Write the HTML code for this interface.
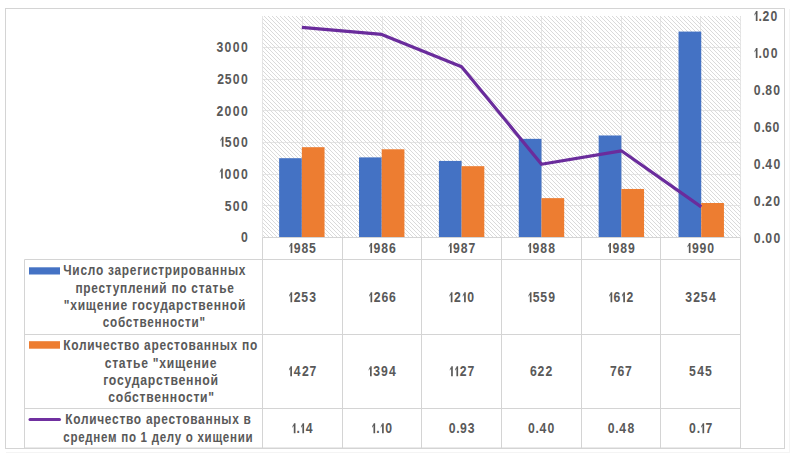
<!DOCTYPE html><html><head><meta charset="utf-8"><style>html,body{margin:0;padding:0;background:#fff;width:792px;height:458px;overflow:hidden}svg{display:block}text{font-family:"Liberation Sans",sans-serif;font-size:14.5px;font-weight:700;fill:#595959;stroke:#595959;stroke-width:0.0px;letter-spacing:0.9px;white-space:pre} .one{fill:#595959} text.n{stroke-width:0.0px;font-weight:700}</style></head><body>
<svg width="792" height="458" viewBox="0 0 792 458">
<defs><pattern id="hatch" patternUnits="userSpaceOnUse" width="4" height="4" x="0" y="0"><rect x="0" y="0" width="1" height="1" fill="#dadada"/><rect x="1" y="1" width="1" height="1" fill="#dadada"/><rect x="2" y="2" width="1" height="1" fill="#dadada"/><rect x="3" y="3" width="1" height="1" fill="#dadada"/></pattern></defs>
<line x1="789.5" y1="9" x2="789.5" y2="453" stroke="#f4f4f4"/><line x1="6" y1="452.5" x2="789" y2="452.5" stroke="#f4f4f4"/>
<rect x="5.5" y="8.5" width="779" height="440" fill="#fff" stroke="#d4d4d4" stroke-width="1"/>
<line x1="262.5" y1="237.50" x2="740.5" y2="237.50" stroke="#e6e6e6" stroke-width="1"/>
<line x1="262.5" y1="205.50" x2="740.5" y2="205.50" stroke="#e6e6e6" stroke-width="1"/>
<line x1="262.5" y1="174.50" x2="740.5" y2="174.50" stroke="#e6e6e6" stroke-width="1"/>
<line x1="262.5" y1="142.50" x2="740.5" y2="142.50" stroke="#e6e6e6" stroke-width="1"/>
<line x1="262.5" y1="110.50" x2="740.5" y2="110.50" stroke="#e6e6e6" stroke-width="1"/>
<line x1="262.5" y1="79.50" x2="740.5" y2="79.50" stroke="#e6e6e6" stroke-width="1"/>
<line x1="262.5" y1="47.50" x2="740.5" y2="47.50" stroke="#e6e6e6" stroke-width="1"/>
<line x1="262.50" y1="16.0" x2="262.50" y2="237.5" stroke="#e6e6e6" stroke-width="1"/>
<line x1="302.50" y1="16.0" x2="302.50" y2="237.5" stroke="#e6e6e6" stroke-width="1"/>
<line x1="342.50" y1="16.0" x2="342.50" y2="237.5" stroke="#e6e6e6" stroke-width="1"/>
<line x1="382.50" y1="16.0" x2="382.50" y2="237.5" stroke="#e6e6e6" stroke-width="1"/>
<line x1="421.50" y1="16.0" x2="421.50" y2="237.5" stroke="#e6e6e6" stroke-width="1"/>
<line x1="461.50" y1="16.0" x2="461.50" y2="237.5" stroke="#e6e6e6" stroke-width="1"/>
<line x1="501.50" y1="16.0" x2="501.50" y2="237.5" stroke="#e6e6e6" stroke-width="1"/>
<line x1="541.50" y1="16.0" x2="541.50" y2="237.5" stroke="#e6e6e6" stroke-width="1"/>
<line x1="581.50" y1="16.0" x2="581.50" y2="237.5" stroke="#e6e6e6" stroke-width="1"/>
<line x1="621.50" y1="16.0" x2="621.50" y2="237.5" stroke="#e6e6e6" stroke-width="1"/>
<line x1="660.50" y1="16.0" x2="660.50" y2="237.5" stroke="#e6e6e6" stroke-width="1"/>
<line x1="700.50" y1="16.0" x2="700.50" y2="237.5" stroke="#e6e6e6" stroke-width="1"/>
<line x1="740.50" y1="16.0" x2="740.50" y2="237.5" stroke="#e6e6e6" stroke-width="1"/>
<rect x="262.5" y="16.0" width="478.0" height="221.5" fill="url(#hatch)"/>
<rect x="279.14" y="158.20" width="22.7" height="79.30" fill="#4472c4"/>
<rect x="301.84" y="147.19" width="22.7" height="90.31" fill="#ed7d31"/>
<rect x="359.02" y="157.38" width="22.7" height="80.12" fill="#4472c4"/>
<rect x="381.72" y="149.28" width="22.7" height="88.22" fill="#ed7d31"/>
<rect x="438.90" y="160.92" width="22.7" height="76.58" fill="#4472c4"/>
<rect x="461.60" y="166.18" width="22.7" height="71.32" fill="#ed7d31"/>
<rect x="518.78" y="138.84" width="22.7" height="98.66" fill="#4472c4"/>
<rect x="541.48" y="198.14" width="22.7" height="39.36" fill="#ed7d31"/>
<rect x="598.66" y="135.48" width="22.7" height="102.02" fill="#4472c4"/>
<rect x="621.36" y="188.96" width="22.7" height="48.54" fill="#ed7d31"/>
<rect x="678.54" y="31.57" width="22.7" height="205.93" fill="#4472c4"/>
<rect x="701.24" y="203.01" width="22.7" height="34.49" fill="#ed7d31"/>
<polyline points="301.84,27.38 381.72,34.46 461.60,66.74 541.48,164.27 621.36,150.80 701.24,206.82" fill="none" stroke="#6a2c9c" stroke-width="3.2" stroke-linejoin="round" stroke-linecap="butt"/>
<line x1="262.5" y1="237.5" x2="740.5" y2="237.5" stroke="#d4d4d4"/>
<line x1="24.5" y1="259.5" x2="740.5" y2="259.5" stroke="#d4d4d4"/>
<line x1="24.5" y1="334.5" x2="740.5" y2="334.5" stroke="#d4d4d4"/>
<line x1="24.5" y1="408.5" x2="740.5" y2="408.5" stroke="#d4d4d4"/>
<line x1="24.5" y1="448" x2="740.5" y2="448" stroke="#d4d4d4"/>
<line x1="24.5" y1="259.5" x2="24.5" y2="448" stroke="#d4d4d4"/>
<line x1="262.5" y1="237.5" x2="262.5" y2="448" stroke="#d4d4d4"/>
<line x1="342.5" y1="237.5" x2="342.5" y2="448" stroke="#d4d4d4"/>
<line x1="421.5" y1="237.5" x2="421.5" y2="448" stroke="#d4d4d4"/>
<line x1="501.5" y1="237.5" x2="501.5" y2="448" stroke="#d4d4d4"/>
<line x1="581.5" y1="237.5" x2="581.5" y2="448" stroke="#d4d4d4"/>
<line x1="660.5" y1="237.5" x2="660.5" y2="448" stroke="#d4d4d4"/>
<line x1="740.5" y1="237.5" x2="740.5" y2="448" stroke="#d4d4d4"/>
<rect x="29" y="267.3" width="31" height="7.2" fill="#4472c4"/>
<rect x="29" y="341.2" width="31" height="7.5" fill="#ed7d31"/>
<line x1="30" y1="419.5" x2="59.5" y2="419.5" stroke="#7030a0" stroke-width="3" stroke-linecap="round"/>
<text transform="translate(63.25,275.30) scale(0.8213,1)">Число зарегистрированных</text>
<text transform="translate(75.46,292.60) scale(0.8187,1)">преступлений по статье</text>
<text transform="translate(63.77,309.90) scale(0.8325,1)">"хищение государственной</text>
<text transform="translate(102.79,327.30) scale(0.8082,1)">собственности"</text>
<text transform="translate(63.18,349.80) scale(0.8226,1)">Количество арестованных по</text>
<text transform="translate(104.66,367.60) scale(0.8357,1)">статье "хищение</text>
<text transform="translate(103.13,385.10) scale(0.8451,1)">государственной</text>
<text transform="translate(108.26,402.40) scale(0.8371,1)">собственности"</text>
<text transform="translate(65.18,423.80) scale(0.8211,1)">Количество арестованных в</text>
<text transform="translate(63.30,441.80) scale(0.7966,1)">среднем по 1 делу о хищении</text>
<text class="n" transform="translate(241.00,241.80) scale(0.8428,1)">0</text>
<text class="n" transform="translate(224.67,211.06) scale(0.8428,1)">5</text>
<text class="n" transform="translate(232.70,211.06) scale(0.8428,1)">0</text>
<text class="n" transform="translate(241.00,211.06) scale(0.8428,1)">0</text>
<path class="one" d="M221.10,178.51V168.51H222.80V178.51Z M221.40,168.51L219.80,171.51L219.80,173.11L221.10,170.71Z"/>
<text class="n" transform="translate(224.40,178.51) scale(0.8428,1)">0</text>
<text class="n" transform="translate(232.70,178.51) scale(0.8428,1)">0</text>
<text class="n" transform="translate(241.00,178.51) scale(0.8428,1)">0</text>
<path class="one" d="M221.80,146.87V136.87H223.50V146.87Z M222.10,136.87L220.50,139.87L220.50,141.47L221.80,139.07Z"/>
<text class="n" transform="translate(224.67,146.87) scale(0.8428,1)">5</text>
<text class="n" transform="translate(232.70,146.87) scale(0.8428,1)">0</text>
<text class="n" transform="translate(241.00,146.87) scale(0.8428,1)">0</text>
<text class="n" transform="translate(216.43,116.03) scale(0.8428,1)">2</text>
<text class="n" transform="translate(224.40,116.03) scale(0.8428,1)">0</text>
<text class="n" transform="translate(232.70,116.03) scale(0.8428,1)">0</text>
<text class="n" transform="translate(241.00,116.03) scale(0.8428,1)">0</text>
<text class="n" transform="translate(217.13,83.89) scale(0.8428,1)">2</text>
<text class="n" transform="translate(224.67,83.89) scale(0.8428,1)">5</text>
<text class="n" transform="translate(232.70,83.89) scale(0.8428,1)">0</text>
<text class="n" transform="translate(241.00,83.89) scale(0.8428,1)">0</text>
<text class="n" transform="translate(216.46,51.94) scale(0.8428,1)">3</text>
<text class="n" transform="translate(224.40,51.94) scale(0.8428,1)">0</text>
<text class="n" transform="translate(232.70,51.94) scale(0.8428,1)">0</text>
<text class="n" transform="translate(241.00,51.94) scale(0.8428,1)">0</text>
<text class="n" transform="translate(753.80,242.60) scale(0.8428,1)">0</text>
<text class="n" transform="translate(761.39,242.60) scale(0.8428,1)">.</text>
<text class="n" transform="translate(765.20,242.60) scale(0.8428,1)">0</text>
<text class="n" transform="translate(773.50,242.60) scale(0.8428,1)">0</text>
<text class="n" transform="translate(753.80,205.68) scale(0.8428,1)">0</text>
<text class="n" transform="translate(761.39,205.68) scale(0.8428,1)">.</text>
<text class="n" transform="translate(765.23,205.68) scale(0.8428,1)">2</text>
<text class="n" transform="translate(773.20,205.68) scale(0.8428,1)">0</text>
<text class="n" transform="translate(753.80,168.77) scale(0.8428,1)">0</text>
<text class="n" transform="translate(761.39,168.77) scale(0.8428,1)">.</text>
<text class="n" transform="translate(765.35,168.77) scale(0.8428,1)">4</text>
<text class="n" transform="translate(773.50,168.77) scale(0.8428,1)">0</text>
<text class="n" transform="translate(753.80,131.85) scale(0.8428,1)">0</text>
<text class="n" transform="translate(761.39,131.85) scale(0.8428,1)">.</text>
<text class="n" transform="translate(764.91,131.85) scale(0.8428,1)">6</text>
<text class="n" transform="translate(772.60,131.85) scale(0.8428,1)">0</text>
<text class="n" transform="translate(753.80,94.93) scale(0.8428,1)">0</text>
<text class="n" transform="translate(761.39,94.93) scale(0.8428,1)">.</text>
<text class="n" transform="translate(765.21,94.93) scale(0.8428,1)">8</text>
<text class="n" transform="translate(773.20,94.93) scale(0.8428,1)">0</text>
<path class="one" d="M755.80,58.02V48.02H757.50V58.02Z M756.10,48.02L754.50,51.02L754.50,52.62L755.80,50.22Z"/>
<text class="n" transform="translate(758.59,58.02) scale(0.8428,1)">.</text>
<text class="n" transform="translate(762.40,58.02) scale(0.8428,1)">0</text>
<text class="n" transform="translate(770.70,58.02) scale(0.8428,1)">0</text>
<path class="one" d="M755.80,21.10V11.10H757.50V21.10Z M756.10,11.10L754.50,14.10L754.50,15.70L755.80,13.30Z"/>
<text class="n" transform="translate(758.59,21.10) scale(0.8428,1)">.</text>
<text class="n" transform="translate(762.43,21.10) scale(0.8428,1)">2</text>
<text class="n" transform="translate(770.40,21.10) scale(0.8428,1)">0</text>
<path class="one" d="M290.63,253.00V243.00H292.33V253.00Z M290.93,243.00L289.33,246.00L289.33,247.60L290.63,245.20Z"/>
<text class="n" transform="translate(293.74,253.00) scale(0.8428,1)">9</text>
<text class="n" transform="translate(301.54,253.00) scale(0.8428,1)">8</text>
<text class="n" transform="translate(309.10,253.00) scale(0.8428,1)">5</text>
<path class="one" d="M290.48,302.30V292.30H292.18V302.30Z M290.78,292.30L289.18,295.30L289.18,296.90L290.48,294.50Z"/>
<text class="n" transform="translate(293.82,302.30) scale(0.8428,1)">2</text>
<text class="n" transform="translate(301.35,302.30) scale(0.8428,1)">5</text>
<text class="n" transform="translate(309.35,302.30) scale(0.8428,1)">3</text>
<path class="one" d="M290.28,376.20V366.20H291.98V376.20Z M290.58,366.20L288.98,369.20L288.98,370.80L290.28,368.40Z"/>
<text class="n" transform="translate(293.73,376.20) scale(0.8428,1)">4</text>
<text class="n" transform="translate(301.92,376.20) scale(0.8428,1)">2</text>
<text class="n" transform="translate(309.54,376.20) scale(0.8428,1)">7</text>
<path class="one" d="M293.78,433.30V423.30H295.48V433.30Z M294.08,423.30L292.48,426.30L292.48,427.90L293.78,425.50Z"/>
<text class="n" transform="translate(296.58,433.30) scale(0.8428,1)">.</text>
<path class="one" d="M302.38,433.30V423.30H304.08V433.30Z M302.68,423.30L301.08,426.30L301.08,427.90L302.38,425.50Z"/>
<text class="n" transform="translate(305.83,433.30) scale(0.8428,1)">4</text>
<path class="one" d="M370.40,253.00V243.00H372.10V253.00Z M370.70,243.00L369.10,246.00L369.10,247.60L370.40,245.20Z"/>
<text class="n" transform="translate(373.51,253.00) scale(0.8428,1)">9</text>
<text class="n" transform="translate(381.31,253.00) scale(0.8428,1)">8</text>
<text class="n" transform="translate(389.01,253.00) scale(0.8428,1)">6</text>
<path class="one" d="M370.50,302.30V292.30H372.20V302.30Z M370.80,292.30L369.20,295.30L369.20,296.90L370.50,294.50Z"/>
<text class="n" transform="translate(373.83,302.30) scale(0.8428,1)">2</text>
<text class="n" transform="translate(381.51,302.30) scale(0.8428,1)">6</text>
<text class="n" transform="translate(388.91,302.30) scale(0.8428,1)">6</text>
<path class="one" d="M370.00,376.20V366.20H371.70V376.20Z M370.30,366.20L368.70,369.20L368.70,370.80L370.00,368.40Z"/>
<text class="n" transform="translate(373.26,376.20) scale(0.8428,1)">3</text>
<text class="n" transform="translate(381.01,376.20) scale(0.8428,1)">9</text>
<text class="n" transform="translate(388.95,376.20) scale(0.8428,1)">4</text>
<path class="one" d="M373.45,433.30V423.30H375.15V433.30Z M373.75,423.30L372.15,426.30L372.15,427.90L373.45,425.50Z"/>
<text class="n" transform="translate(376.24,433.30) scale(0.8428,1)">.</text>
<path class="one" d="M382.05,433.30V423.30H383.75V433.30Z M382.35,423.30L380.75,426.30L380.75,427.90L382.05,425.50Z"/>
<text class="n" transform="translate(385.35,433.30) scale(0.8428,1)">0</text>
<path class="one" d="M449.97,253.00V243.00H451.67V253.00Z M450.27,243.00L448.67,246.00L448.67,247.60L449.97,245.20Z"/>
<text class="n" transform="translate(453.07,253.00) scale(0.8428,1)">9</text>
<text class="n" transform="translate(460.87,253.00) scale(0.8428,1)">8</text>
<text class="n" transform="translate(468.53,253.00) scale(0.8428,1)">7</text>
<path class="one" d="M450.77,302.30V292.30H452.47V302.30Z M451.07,292.30L449.47,295.30L449.47,296.90L450.77,294.50Z"/>
<text class="n" transform="translate(454.10,302.30) scale(0.8428,1)">2</text>
<path class="one" d="M464.07,302.30V292.30H465.77V302.30Z M464.37,292.30L462.77,295.30L462.77,296.90L464.07,294.50Z"/>
<text class="n" transform="translate(467.37,302.30) scale(0.8428,1)">0</text>
<path class="one" d="M451.12,376.20V366.20H452.82V376.20Z M451.42,366.20L449.82,369.20L449.82,370.80L451.12,368.40Z"/>
<path class="one" d="M456.42,376.20V366.20H458.12V376.20Z M456.72,366.20L455.12,369.20L455.12,370.80L456.42,368.40Z"/>
<text class="n" transform="translate(459.75,376.20) scale(0.8428,1)">2</text>
<text class="n" transform="translate(467.38,376.20) scale(0.8428,1)">7</text>
<text class="n" transform="translate(448.77,433.30) scale(0.8428,1)">0</text>
<text class="n" transform="translate(456.36,433.30) scale(0.8428,1)">.</text>
<text class="n" transform="translate(459.97,433.30) scale(0.8428,1)">9</text>
<text class="n" transform="translate(467.73,433.30) scale(0.8428,1)">3</text>
<path class="one" d="M529.43,253.00V243.00H531.13V253.00Z M529.73,243.00L528.13,246.00L528.13,247.60L529.43,245.20Z"/>
<text class="n" transform="translate(532.54,253.00) scale(0.8428,1)">9</text>
<text class="n" transform="translate(540.34,253.00) scale(0.8428,1)">8</text>
<text class="n" transform="translate(548.34,253.00) scale(0.8428,1)">8</text>
<path class="one" d="M529.83,302.30V292.30H531.53V302.30Z M530.13,292.30L528.53,295.30L528.53,296.90L529.83,294.50Z"/>
<text class="n" transform="translate(532.70,302.30) scale(0.8428,1)">5</text>
<text class="n" transform="translate(540.30,302.30) scale(0.8428,1)">5</text>
<text class="n" transform="translate(548.14,302.30) scale(0.8428,1)">9</text>
<text class="n" transform="translate(529.90,376.20) scale(0.8428,1)">6</text>
<text class="n" transform="translate(537.62,376.20) scale(0.8428,1)">2</text>
<text class="n" transform="translate(545.62,376.20) scale(0.8428,1)">2</text>
<text class="n" transform="translate(527.88,433.30) scale(0.8428,1)">0</text>
<text class="n" transform="translate(535.48,433.30) scale(0.8428,1)">.</text>
<text class="n" transform="translate(539.43,433.30) scale(0.8428,1)">4</text>
<text class="n" transform="translate(547.58,433.30) scale(0.8428,1)">0</text>
<path class="one" d="M609.30,253.00V243.00H611.00V253.00Z M609.60,243.00L608.00,246.00L608.00,247.60L609.30,245.20Z"/>
<text class="n" transform="translate(612.41,253.00) scale(0.8428,1)">9</text>
<text class="n" transform="translate(620.21,253.00) scale(0.8428,1)">8</text>
<text class="n" transform="translate(628.01,253.00) scale(0.8428,1)">9</text>
<path class="one" d="M610.55,302.30V292.30H612.25V302.30Z M610.85,292.30L609.25,295.30L609.25,296.90L610.55,294.50Z"/>
<text class="n" transform="translate(613.56,302.30) scale(0.8428,1)">6</text>
<path class="one" d="M623.25,302.30V292.30H624.95V302.30Z M623.55,292.30L621.95,295.30L621.95,296.90L623.25,294.50Z"/>
<text class="n" transform="translate(626.58,302.30) scale(0.8428,1)">2</text>
<text class="n" transform="translate(609.91,376.20) scale(0.8428,1)">7</text>
<text class="n" transform="translate(617.56,376.20) scale(0.8428,1)">6</text>
<text class="n" transform="translate(624.91,376.20) scale(0.8428,1)">7</text>
<text class="n" transform="translate(607.70,433.30) scale(0.8428,1)">0</text>
<text class="n" transform="translate(615.29,433.30) scale(0.8428,1)">.</text>
<text class="n" transform="translate(619.25,433.30) scale(0.8428,1)">4</text>
<text class="n" transform="translate(627.41,433.30) scale(0.8428,1)">8</text>
<path class="one" d="M688.82,253.00V243.00H690.52V253.00Z M689.12,243.00L687.52,246.00L687.52,247.60L688.82,245.20Z"/>
<text class="n" transform="translate(691.92,253.00) scale(0.8428,1)">9</text>
<text class="n" transform="translate(699.52,253.00) scale(0.8428,1)">9</text>
<text class="n" transform="translate(707.32,253.00) scale(0.8428,1)">0</text>
<text class="n" transform="translate(685.28,302.30) scale(0.8428,1)">3</text>
<text class="n" transform="translate(693.25,302.30) scale(0.8428,1)">2</text>
<text class="n" transform="translate(700.79,302.30) scale(0.8428,1)">5</text>
<text class="n" transform="translate(708.96,302.30) scale(0.8428,1)">4</text>
<text class="n" transform="translate(689.04,376.20) scale(0.8428,1)">5</text>
<text class="n" transform="translate(697.21,376.20) scale(0.8428,1)">4</text>
<text class="n" transform="translate(704.94,376.20) scale(0.8428,1)">5</text>
<text class="n" transform="translate(689.07,433.30) scale(0.8428,1)">0</text>
<text class="n" transform="translate(696.66,433.30) scale(0.8428,1)">.</text>
<path class="one" d="M702.47,433.30V423.30H704.17V433.30Z M702.77,423.30L701.17,426.30L701.17,427.90L702.47,425.50Z"/>
<text class="n" transform="translate(705.43,433.30) scale(0.8428,1)">7</text>
</svg></body></html>
